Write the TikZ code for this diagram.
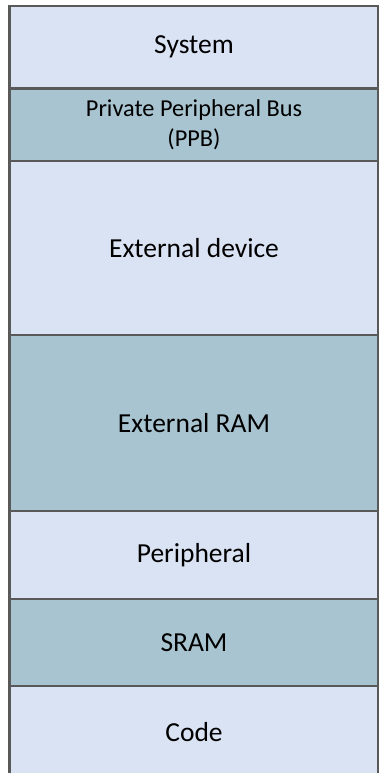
\documentclass[tikz,border=0pt]{standalone}
\usepackage{fontspec}
\setmainfont{Carlito}
\usetikzlibrary{positioning}
\definecolor{bandlight}{HTML}{DAE3F3}
\definecolor{banddark}{HTML}{A8C4D0}
\definecolor{bandline}{HTML}{595959}
\tikzset{
  band/.style={draw=bandline,line width=2.8pt,outer sep=0pt,inner sep=0pt,
    minimum width=369pt,anchor=north,align=center,text=black,
    font=\fontsize{27.5}{33}\selectfont},
  lightband/.style={band,fill=bandlight},
  darkband/.style={band,fill=banddark},
}
\begin{document}
\begin{tikzpicture}[x=1pt,y=-1pt]
  \clip (0,0) rectangle (379,773);
  % memory map, top to bottom
  \node[lightband,minimum height=82.5pt] (system) at (194,6) {System};
  \node[darkband,minimum height=72.5pt,below=0pt of system,
        font=\fontsize{24.3}{30}\selectfont] (ppb) {Private Peripheral Bus\\(PPB)};
  \node[lightband,minimum height=174pt,below=0pt of ppb] (extdev) {External device};
  \node[darkband,minimum height=176pt,below=0pt of extdev] (extram) {External RAM};
  \node[lightband,minimum height=88pt,below=0pt of extram] (periph) {Peripheral};
  \node[darkband,minimum height=87pt,below=0pt of periph] (sram) {SRAM};
  \node[lightband,minimum height=92pt,below=0pt of sram] (code) {Code};
\end{tikzpicture}
\end{document}
